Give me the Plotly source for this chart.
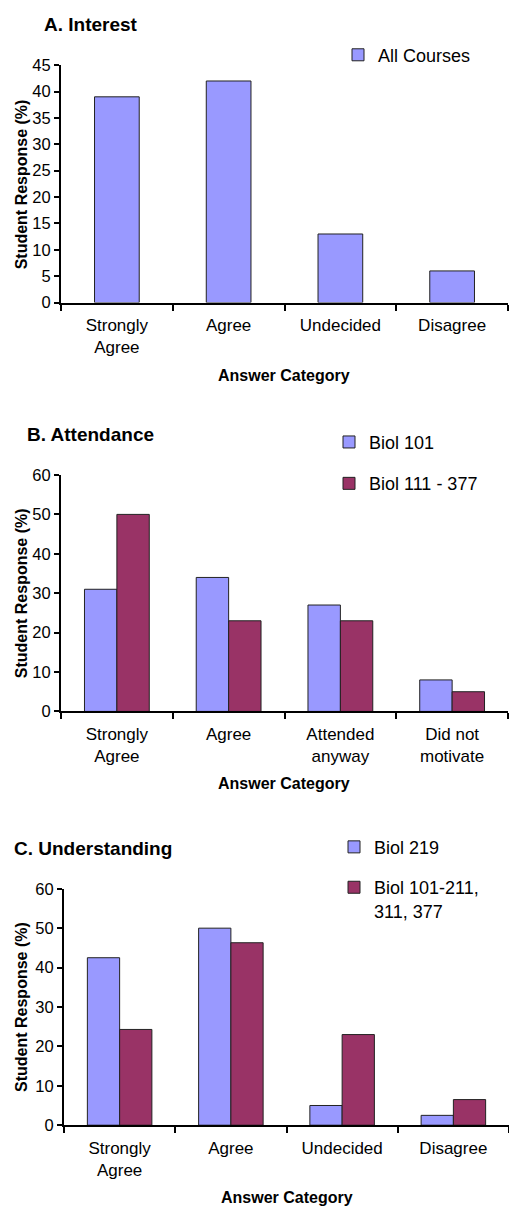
import plotly.graph_objects as go

W, H = 509, 1214

# ---- data ----
cats_a = ["Strongly<br>Agree", "Agree", "Undecided", "Disagree"]
all_courses = [39, 42, 13, 6]

cats_b = ["Strongly<br>Agree", "Agree", "Attended<br>anyway", "Did not<br>motivate"]
biol_101 = [31, 34, 27, 8]
biol_111_377 = [50, 23, 23, 5]

cats_c = ["Strongly<br>Agree", "Agree", "Undecided", "Disagree"]
biol_219 = [42.5, 50, 5, 2.5]
biol_101_211 = [24.3, 46.3, 23, 6.5]

LIGHT = "#9999FF"
MAROON = "#993366"
FONT = "Arial, Liberation Sans, sans-serif"

fig = go.Figure()

fig.add_trace(go.Bar(x=cats_a, y=all_courses, name="All Courses", width=0.4,
                     marker=dict(color=LIGHT, line=dict(color="#222", width=1)),
                     xaxis="x", yaxis="y", legend="legend", legendgroup="a1"))

fig.add_trace(go.Bar(x=cats_b, y=biol_101, name="Biol 101",
                     marker=dict(color=LIGHT, line=dict(color="#222", width=1)),
                     xaxis="x2", yaxis="y2", legend="legend2", legendgroup="b1"))
fig.add_trace(go.Bar(x=cats_b, y=biol_111_377, name="Biol 111 - 377",
                     marker=dict(color=MAROON, line=dict(color="#222", width=1)),
                     xaxis="x2", yaxis="y2", legend="legend2", legendgroup="b2"))

fig.add_trace(go.Bar(x=cats_c, y=biol_219, name="Biol 219",
                     marker=dict(color=LIGHT, line=dict(color="#222", width=1)),
                     xaxis="x3", yaxis="y3", legend="legend3", legendgroup="c1"))
fig.add_trace(go.Bar(x=cats_c, y=biol_101_211, name="Biol 101-211,<br>311, 377",
                     marker=dict(color=MAROON, line=dict(color="#222", width=1)),
                     xaxis="x3", yaxis="y3", legend="legend3", legendgroup="c2"))


def py(p):
    return 1 - p / H


def xax(dom):
    return dict(domain=dom, showline=True, linecolor="black", linewidth=2,
                ticks="outside", tickson="boundaries", ticklen=6, tickwidth=2,
                tickcolor="black", showgrid=False, zeroline=False,
                ticklabelstandoff=6,
                tickfont=dict(family=FONT, size=17, color="black"),
                range=[-0.5, 3.5], fixedrange=True)


def yax(dom, rng, dt, anchor):
    return dict(domain=dom, range=rng, dtick=dt, showline=True, linecolor="black",
                linewidth=2, ticks="outside", ticklen=5, tickwidth=2,
                tickcolor="black", showgrid=False, zeroline=False, anchor=anchor,
                fixedrange=True,
                tickfont=dict(family=FONT, size=16.5, color="black"))


xa = xax([61 / W, 508 / W]); xa["anchor"] = "y"
xb = xax([61 / W, 508 / W]); xb["anchor"] = "y2"
xc = xax([64 / W, 509 / W]); xc["anchor"] = "y3"

legend_common = dict(font=dict(family=FONT, size=18, color="black"),
                     bgcolor="rgba(0,0,0,0)", xanchor="left", yanchor="top",
                     traceorder="grouped", valign="top", itemclick=False)

fig.update_layout(
    width=W, height=H, margin=dict(l=0, r=0, t=0, b=0),
    paper_bgcolor="white", plot_bgcolor="white",
    barmode="group", bargap=0.42, bargroupgap=0,
    xaxis=xa, xaxis2=xb, xaxis3=xc,
    yaxis=yax([py(298), py(57)], [0, 45], 5, "x"),
    yaxis2=yax([py(713), py(473)], [0, 60], 10, "x2"),
    yaxis3=yax([py(1133), py(893)], [0, 60], 10, "x3"),
    legend=dict(x=338 / W, y=py(28), tracegroupgap=16, **legend_common),
    legend2=dict(x=329 / W, y=py(421), tracegroupgap=15, **legend_common),
    legend3=dict(x=334 / W, y=py(832), tracegroupgap=14, **legend_common),
    showlegend=True,
)

ann = []
def text(t, x, y, size, bold=False, angle=0, xanchor="center"):
    ann.append(dict(text=f"<b>{t}</b>" if bold else t, x=x / W, y=py(y),
                    xref="paper", yref="paper", showarrow=False,
                    xanchor=xanchor, yanchor="middle", textangle=angle,
                    font=dict(family=FONT, size=size, color="black")))

text("A. Interest", 42, 16, 19, True, xanchor="left")
text("B. Attendance", 25, 432, 19, True, xanchor="left")
text("C. Understanding", 12, 852, 19, True, xanchor="left")

text("Answer Category", 284, 372, 16, True)
text("Answer Category", 284, 786, 16, True)
text("Answer Category", 287, 1206, 16, True)

text("Student Response (%)", 21, 178, 16, True, angle=-90)
text("Student Response (%)", 21, 593, 16, True, angle=-90)
text("Student Response (%)", 22, 1013, 16, True, angle=-90)

fig.update_layout(annotations=ann)

fig.write_html(
    "out.html",
    config={"displayModeBar": False, "staticPlot": True},
    post_script=(
        "document.documentElement.style.margin='0';"
        "document.body.style.margin='0';"
        "document.body.style.overflow='hidden';"
        "var d=document.getElementById('{plot_id}');"
        "d.style.position='fixed';d.style.left='0px';d.style.top='0px';"
    ),
)
